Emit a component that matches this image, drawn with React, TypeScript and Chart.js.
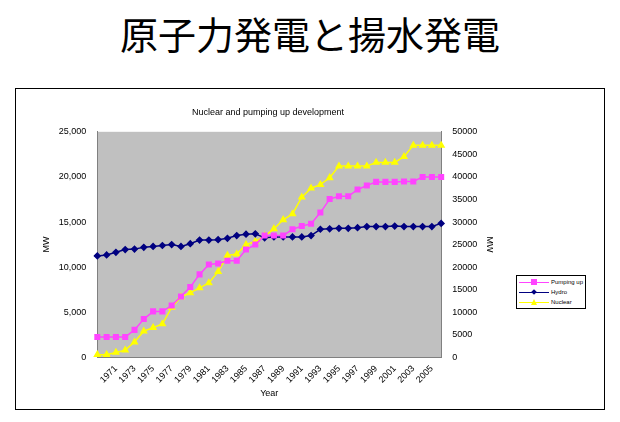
import React, { useEffect, useRef } from "react";
import { Chart, registerables } from "chart.js";
Chart.register(...registerables);

const years: string[] = [];
for (let y = 1969; y <= 2006; y++) years.push(String(y));

const pumping = [4500,4500,4500,4500,6100,8500,10200,10200,11500,13500,15600,18400,20600,20800,21400,21400,23900,25000,27000,27000,27000,28400,29100,29600,32100,35100,35700,35700,37200,38100,38900,38900,38900,39000,39000,40000,40000,40000];
const hydro = [22500,22700,23300,23900,24000,24400,24600,24800,25000,24600,25200,26000,26000,26100,26400,27000,27300,27400,26500,26700,26700,26700,26700,27000,28400,28500,28600,28600,28750,29000,29000,29000,29100,29000,29000,29000,29000,29700];
const nuclear = [600,600,1100,1600,3400,5800,6600,7400,11100,13400,14300,15400,16500,19000,22600,22900,25000,25700,26900,28500,30500,31800,35500,37500,38300,39800,42400,42400,42400,42400,43200,43200,43200,44500,47000,47000,47000,47000];

export default function App() {
  const ref = useRef<HTMLCanvasElement>(null);
  useEffect(() => {
    const font = { family: "Arial, 'Liberation Sans', sans-serif", size: 9 };
    const chart = new Chart(ref.current!, {
      type: "line",
      data: {
        labels: years,
        datasets: [
          { label: "Pumping up", data: pumping, borderColor: "#ff44ff", backgroundColor: "#ff44ff", pointStyle: "rect", pointRadius: 3.2, borderWidth: 1.5, yAxisID: "y2" },
          { label: "Hydro", data: hydro, borderColor: "#000080", backgroundColor: "#000080", pointStyle: "rectRot", pointRadius: 2.8, borderWidth: 1.5, yAxisID: "y2" },
          { label: "Nuclear", data: nuclear, borderColor: "#ffff00", backgroundColor: "#ffff00", pointStyle: "triangle", pointRadius: 3.2, borderWidth: 1.5, yAxisID: "y2" },
        ],
      },
      options: {
        animation: false,
        responsive: false,
        layout: { padding: { left: 21, right: 105, top: 8, bottom: 10 } },
        plugins: {
          legend: { display: false },
          title: { display: true, text: "Nuclear and pumping up development", font: { ...font, weight: "normal" }, color: "#000", padding: { top: 10, bottom: 14 } },
          tooltip: { enabled: false },
        },
        scales: {
          x: {
            grid: { display: false, drawTicks: true, tickLength: 3 },
            border: { color: "#808080" },
            ticks: {
              font, color: "#000", minRotation: 45, maxRotation: 45, autoSkip: false,
              callback: (_v: any, i: number) => { const y = 1969 + i; return y >= 1971 && y % 2 === 1 ? String(y) : ""; },
            },
            title: { display: true, text: "Year", font, color: "#000", padding: 0 },
          },
          y: {
            position: "left", min: 0, max: 25000,
            ticks: { stepSize: 5000, font, color: "#000", callback: (v: any) => Number(v).toLocaleString("en-US") },
            grid: { display: false },
            border: { color: "#808080" },
            title: { display: true, text: "MW", font, color: "#000" },
          },
          y2: {
            position: "right", min: 0, max: 50000,
            ticks: { stepSize: 5000, font, color: "#000", callback: (v: any) => String(v) },
            grid: { display: false },
            border: { color: "#808080" },
            title: { display: true, text: "MW", font, color: "#000" },
          },
        },
      },
      plugins: [{
        id: "bg",
        beforeDraw(c: any) {
          const a = c.chartArea; const ctx = c.ctx;
          ctx.save(); ctx.fillStyle = "#c0c0c0"; ctx.fillRect(a.left, a.top, a.right - a.left, a.bottom - a.top); ctx.restore();
        },
      }],
    });
    return () => chart.destroy();
  }, []);

  const item = (label: string, color: string, shape: React.ReactNode) => (
    <div style={{ display: "flex", alignItems: "center", height: 10, whiteSpace: "nowrap" }}>
      <div style={{ position: "relative", width: 30, height: 10, flex: "none" }}>
        <div style={{ position: "absolute", left: 0, right: 0, top: 4.5, height: 1.5, background: color }} />
        {shape}
      </div>
      <span style={{ marginLeft: 2 }}>{label}</span>
    </div>
  );

  return (
    <div style={{ position: "fixed", left: 0, top: 0, width: 620, height: 422, background: "#fff", fontFamily: "Arial, 'Liberation Sans', sans-serif" }}>
      <div style={{ position: "absolute", left: 0, width: 620, top: 8, textAlign: "center", fontSize: 38, fontFamily: "'Noto Sans CJK JP', sans-serif", lineHeight: "50px" }}>原子力発電と揚水発電</div>
      <div style={{ position: "absolute", left: 15, top: 88, width: 590, height: 322, border: "1px solid #000", boxSizing: "border-box" }}>
        <canvas ref={ref} width={588} height={320} />
        <div style={{ position: "absolute", left: 500, top: 186, width: 70, padding: "1px 2px", border: "1px solid #000", fontSize: 6, background: "#fff", lineHeight: "10px", boxSizing: "border-box" }}>
          {item("Pumping up", "#ff44ff", <div style={{ position: "absolute", left: 12, top: 2, width: 6, height: 6, background: "#ff44ff" }} />)}
          {item("Hydro", "#000080", <div style={{ position: "absolute", left: 13, top: 3, width: 4, height: 4, background: "#000080", transform: "rotate(45deg)" }} />)}
          {item("Nuclear", "#ffff00", <div style={{ position: "absolute", left: 12, top: 2, width: 0, height: 0, borderLeft: "3px solid transparent", borderRight: "3px solid transparent", borderBottom: "6px solid #ffff00" }} />)}
        </div>
      </div>
    </div>
  );
}
